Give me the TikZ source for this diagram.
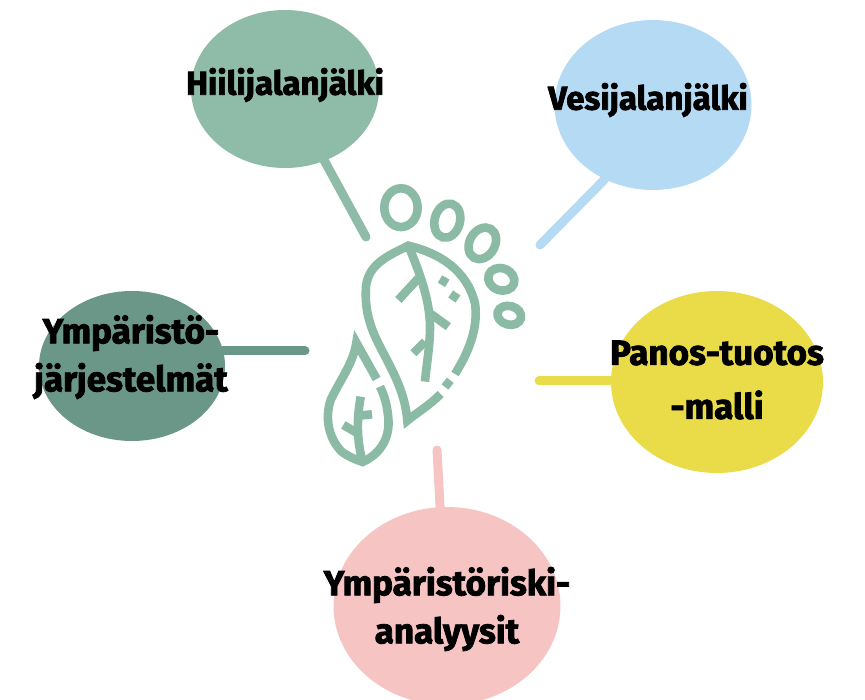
\documentclass[tikz,border=0pt]{standalone}
\usepackage{fontspec}
\setmainfont[BoldFeatures={FakeBold=2.2}]{Fira Sans}
\definecolor{cgreen}{HTML}{8FBCA8}
\definecolor{cblue}{HTML}{B5DAF3}
\definecolor{cyellow}{HTML}{EADC49}
\definecolor{cpink}{HTML}{F5C4C3}
\definecolor{cdark}{HTML}{6A9788}
\definecolor{cfoot}{HTML}{8BBAA5}
\usetikzlibrary{shapes.geometric}
\tikzset{
  blob/.style={ellipse,inner sep=0pt,outer sep=0pt,minimum width=#1},
  link/.style={line width=9pt,line cap=round},
  label text/.style={font=\fontsize{#1}{48}\selectfont\bfseries,text=black,align=center,inner sep=0pt},
  foot/.style={draw=cfoot,line width=8.6pt,miter limit=10},
}
\begin{document}
\begin{tikzpicture}[x=1pt,y=-1pt]
\useasboundingbox (0,0) rectangle (865,700);
% bubbles
\node[blob=188pt,minimum height=158pt,fill=cgreen] (carbon) at (285,89) {};
\node[blob=197pt,minimum height=170pt,fill=cblue] (water) at (653,105) {};
\node[blob=212pt,minimum height=182pt,fill=cyellow] (io) at (717,382) {};
\node[blob=227pt,minimum height=198pt,fill=cpink] (risk) at (447,606) {};
\node[blob=186pt,minimum height=150pt,fill=cdark] (system) at (132,366) {};
% free ends
\coordinate (carbonEnd) at (366,237);
\coordinate (waterEnd) at (540,245);
\coordinate (ioEnd) at (539,381);
\coordinate (riskEnd) at (437,450);
\coordinate (systemEnd) at (305,351);
% connectors
\draw[link,draw=cgreen] (carbon) ++(39,71) coordinate (carbonStart) -- (carbonEnd);
\draw[link,draw=cblue] (water.237) -- (waterEnd);
\draw[link,draw=cyellow] (io.west |- ioEnd) -- (ioEnd);
\draw[link,draw=cpink] (risk.94) -- (riskEnd);
\draw[link,draw=cdark] (system.10 |- systemEnd) -- (systemEnd);
% foot, in coordinates of a 3x crop
\begin{scope}[shift={(310,170)},x=0.3333pt,y=-0.3333pt,foot]
  \draw (273,113) ellipse [x radius=50,y radius=58];
  \draw[rotate around={-15:(412,152)}] (412,152) ellipse [x radius=38,y radius=52];
  \draw[rotate around={-30:(517,220)}] (517,220) ellipse [x radius=38,y radius=50];
  \draw[rotate around={-20:(574,328)}] (574,328) ellipse [x radius=40,y radius=33];
  \draw[rotate around={-15:(598,436)}] (598,436) ellipse [x radius=36,y radius=28];
  % large leaf
  \draw (392,672) .. controls (360,705) and (325,725) .. (292,752)
     .. controls (285,660) and (240,590) .. (205,520)
     .. controls (170,450) and (165,400) .. (168,350)
     .. controls (175,280) and (240,255) .. (295,227)
     .. controls (390,250) and (470,300) .. (495,400)
     .. controls (505,470) and (480,540) .. (435,612);
  \draw (405,651) -- (421,631);
  \draw (295,227) .. controls (335,320) and (360,400) .. (360,470) .. controls (360,530) and (350,580) .. (345,635);
  \draw (325,325) -- (265,390);
  \draw (360,430) -- (415,470);
  \draw (345,515) -- (310,550);
  \draw (390,327) -- (412,340);
  \draw (422,372) -- (444,387);
  % small leaf
  \draw (200,627) -- (139,518)
     .. controls (130,580) and (90,630) .. (62,690)
     .. controls (42,750) and (60,810) .. (95,845)
     .. controls (115,860) and (135,868) .. (158,876)
     .. controls (215,850) and (240,800) .. (235,745)
     .. controls (232,710) and (225,680) .. (210,650);
  \draw (158,876) .. controls (140,810) and (140,750) .. (152,680);
  \draw (148,737) -- (186,733);
  \draw (143,790) -- (100,765);
\end{scope}
% labels
\node[label text=33] (carbonText) at (285,85) {Hiilijalanjälki};
\node[label text=33] (waterText) at (648,100) {Vesijalanjälki};
\node[label text=35] (ioText) at (717,380) {Panos-tuotos\\[6pt]-malli};
\node[label text=35] (riskText) at (447,609) {Ympäristöriski-\\analyysit};
\node[label text=35] (systemText) at (131,357) {Ympäristö-\\järjestelmät};
\end{tikzpicture}
\end{document}
